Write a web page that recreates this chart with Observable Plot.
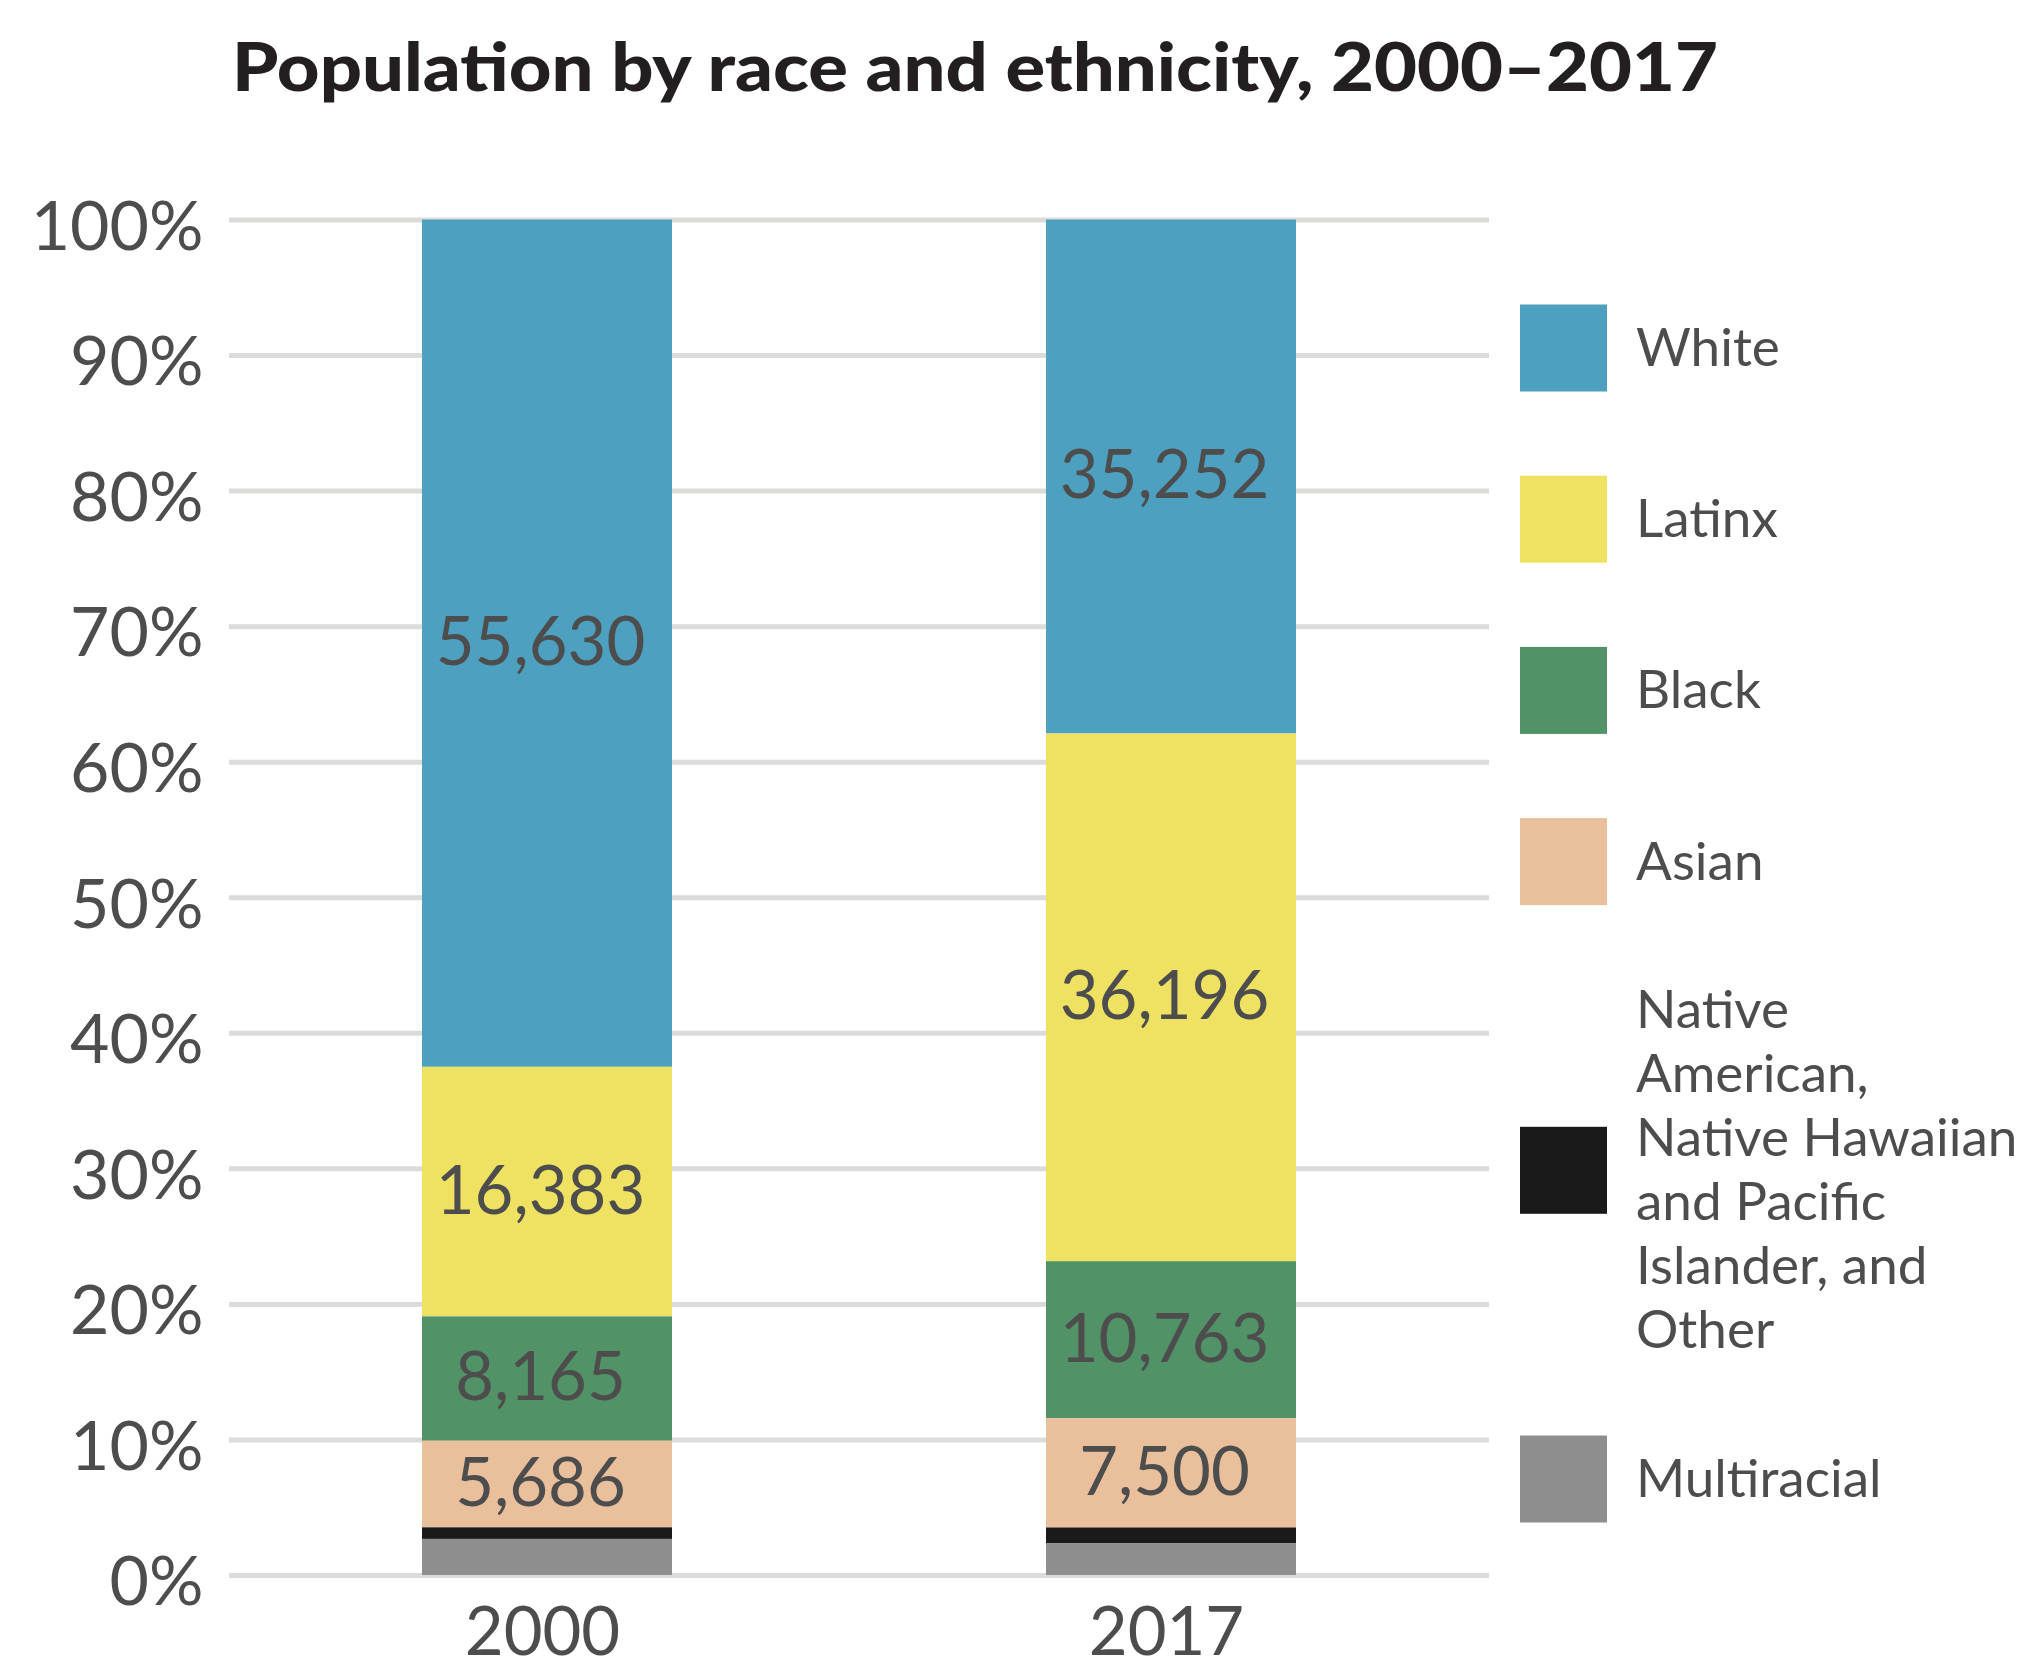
<!DOCTYPE html>
<html>
<head>
<meta charset="utf-8">
<script src="https://cdn.jsdelivr.net/npm/d3@7"></script>
<script src="https://cdn.jsdelivr.net/npm/@observablehq/plot@0.6"></script>
<style>
  html, body { margin: 0; padding: 0; background: #ffffff; }
  #wrap { position: relative; width: 2018px; height: 1669px; overflow: hidden; font-family: Lato, sans-serif; }
  #overlay { position: absolute; left: 0; top: 0; pointer-events: none; }
</style>
</head>
<body>
<div id="wrap"></div>
<script>
// ---- data ----
const years = ["2000", "2017"];
const groups = ["White", "Latinx", "Black", "Asian",
  "Native American, Native Hawaiian and Pacific Islander, and Other", "Multiracial"];
const legendLines = [
  ["White"], ["Latinx"], ["Black"], ["Asian"],
  ["Native", "American,", "Native Hawaiian", "and Pacific", "Islander, and", "Other"],
  ["Multiracial"]
];
const pop2000 = [55630, 16383, 8165, 5686, 760, 2370];
const pop2017 = [35252, 36196, 10763, 7500, 1070, 2190];
const groupColors = ["#4da0bf", "#efe262", "#519266", "#eac09c", "#1a1a1a", "#8e8e8e"];
const labeledGroups = ["White", "Latinx", "Black", "Asian"];
const yTicks = [0, 0.1, 0.2, 0.3, 0.4, 0.5, 0.6, 0.7, 0.8, 0.9, 1];
const titleText = "Population by race and ethnicity, 2000–2017";

// ---- table ----
const table = [];
[pop2000, pop2017].forEach((vals, yi) => {
  groups.forEach((g, gi) => table.push({ year: years[yi], group: g, value: vals[gi] }));
});
const stackOrder = groups.slice().reverse();
const fmt = d3.format(",");
const textColor = "#4d4d4d";

const W = 2018, H = 1669;
const chart = Plot.plot({
  width: W,
  height: H,
  marginLeft: 229,
  marginRight: 529,
  marginTop: 219.5,
  marginBottom: 94,
  style: { fontFamily: "Lato, sans-serif", background: "#ffffff", overflow: "visible" },
  x: { type: "band", domain: years, paddingInner: 0.6, paddingOuter: 0.309, label: null },
  y: { domain: [0, 1], label: null },
  color: { domain: groups, range: groupColors },
  marks: [
    Plot.ruleY(yTicks, { stroke: "#dcdbd9", strokeWidth: 5 }),
    Plot.barY(table, Plot.stackY({
      x: "year", y: "value", z: "group", fill: "group",
      order: stackOrder, offset: "normalize"
    })),
    Plot.text(table, Plot.stackY({
      x: "year", y: "value", z: "group",
      order: stackOrder, offset: "normalize",
      text: d => labeledGroups.includes(d.group) ? fmt(d.value) : "",
      fill: textColor, fontSize: 67, dx: -7
    })),
    Plot.axisY({
      ticks: yTicks, tickSize: 0, tickPadding: 26, dy: 8,
      tickFormat: d => Math.round(d * 100) + "%",
      fontSize: 68, color: textColor, label: null
    }),
    Plot.axisX({
      tickSize: 0, tickPadding: 32, dx: -5, fontSize: 67, color: textColor, label: null
    })
  ]
});
const wrap = document.getElementById("wrap");
wrap.appendChild(chart);

// ---- title & legend overlay ----
const color = chart.scale("color");
const svg = d3.select(wrap).append("svg")
  .attr("id", "overlay").attr("width", W).attr("height", H);

svg.append("text")
  .attr("x", 232).attr("y", 91)
  .attr("font-family", "Lato, sans-serif")
  .attr("font-weight", 900)
  .attr("font-size", 67)
  .attr("fill", "#231f20")
  .attr("textLength", 1486)
  .attr("lengthAdjust", "spacingAndGlyphs")
  .text(titleText);

// legend layout
const swatch = 87, lineH = 64, gap = 84.2;
const heights = legendLines.map(l => l.length === 1 ? swatch : l.length * lineH - 22);
let cy = 348;
const centers = [];
heights.forEach((h, i) => {
  if (i > 0) cy += gap + (heights[i - 1] + h) / 2;
  centers.push(cy);
});
const legendX = 1520, legendTextX = 1636, legendFont = 53;
const lg = svg.append("g");
groups.forEach((g, i) => {
  const c = centers[i];
  lg.append("rect")
    .attr("x", legendX).attr("y", c - swatch / 2)
    .attr("width", swatch).attr("height", swatch)
    .attr("fill", color.apply(g));
  const lines = legendLines[i];
  const n = lines.length;
  const t = lg.append("text")
    .attr("font-family", "Lato, sans-serif")
    .attr("font-size", legendFont)
    .attr("fill", textColor);
  lines.forEach((line, j) => {
    t.append("tspan")
      .attr("x", legendTextX)
      .attr("y", c + 18 + (j - (n - 1) / 2) * lineH)
      .text(line);
  });
});
</script>
</body>
</html>
